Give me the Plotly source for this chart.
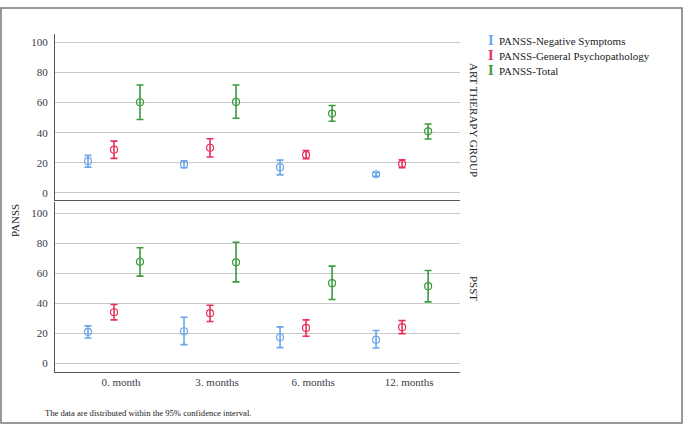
import plotly.graph_objects as go
from plotly.subplots import make_subplots

categories = ["0. month", "3. months", "6. months", "12. months"]
series_names = ["PANSS-Negative Symptoms", "PANSS-General Psychopathology", "PANSS-Total"]
series_colors = ["#6aa6e8", "#e6305e", "#3c9a3c"]
series_offsets = [-0.344, -0.073, 0.198]

# ART THERAPY GROUP: mean, lower, upper (95% CI)
art_neg_mean = [21.1, 18.9, 17.1, 12.4]
art_neg_low = [17.1, 16.7, 12.0, 11.1]
art_neg_up = [24.9, 21.3, 21.8, 13.6]
art_gen_mean = [28.7, 30.0, 25.3, 19.3]
art_gen_low = [22.9, 23.8, 22.7, 16.7]
art_gen_up = [34.4, 36.0, 28.2, 22.0]
art_tot_mean = [60.2, 60.4, 52.7, 40.9]
art_tot_low = [48.7, 49.6, 47.6, 35.8]
art_tot_up = [71.6, 71.6, 58.0, 45.8]

# PSST
psst_neg_mean = [20.8, 21.2, 17.2, 15.6]
psst_neg_low = [16.7, 12.3, 10.3, 10.0]
psst_neg_up = [24.8, 30.6, 24.1, 21.7]
psst_gen_mean = [33.9, 33.3, 23.4, 23.9]
psst_gen_low = [28.8, 27.7, 17.9, 19.6]
psst_gen_up = [39.1, 38.6, 28.8, 28.3]
psst_tot_mean = [67.6, 67.2, 53.3, 51.3]
psst_tot_low = [58.0, 54.2, 42.4, 40.8]
psst_tot_up = [77.0, 80.6, 64.7, 61.8]

y_ticks = [0, 20, 40, 60, 80, 100]

panels = [
    [(art_neg_mean, art_neg_low, art_neg_up),
     (art_gen_mean, art_gen_low, art_gen_up),
     (art_tot_mean, art_tot_low, art_tot_up)],
    [(psst_neg_mean, psst_neg_low, psst_neg_up),
     (psst_gen_mean, psst_gen_low, psst_gen_up),
     (psst_tot_mean, psst_tot_low, psst_tot_up)],
]

W, H = 683, 424
fig = make_subplots(rows=2, cols=1, shared_xaxes=True, vertical_spacing=0.0)

for r, panel in enumerate(panels, start=1):
    for s, (mean, low, up) in enumerate(panel):
        xs = [i + series_offsets[s] for i in range(len(categories))]
        fig.add_trace(go.Scatter(
            x=xs, y=mean, mode="markers", name=series_names[s],
            showlegend=False,
            marker=dict(symbol="circle-open", size=7, color=series_colors[s],
                        line=dict(width=1.2, color=series_colors[s])),
            error_y=dict(type="data", symmetric=False,
                         array=[u - m for u, m in zip(up, mean)],
                         arrayminus=[m - l for m, l in zip(mean, low)],
                         color=series_colors[s], thickness=1.6, width=3.5),
        ), row=r, col=1)

xdom = [55 / W, 460 / W]
serif = "Liberation Serif"
tick_color = "#3a3a48"

fig.update_layout(
    width=W, height=H,
    margin=dict(l=0, r=0, t=0, b=0),
    paper_bgcolor="white", plot_bgcolor="white",
    font=dict(family=serif, size=11, color=tick_color),
    xaxis=dict(domain=xdom, anchor="y"),
    xaxis2=dict(domain=xdom, anchor="y2"),
    yaxis=dict(domain=[(H - 200) / H, (H - 34) / H]),
    yaxis2=dict(domain=[(H - 372) / H, (H - 202) / H]),
)

for ax in ["xaxis", "xaxis2"]:
    fig.layout[ax].update(
        range=[-0.6875, 3.53], showgrid=False, zeroline=False,
        showline=True, linecolor="#555555", linewidth=1.2,
        tickmode="array", tickvals=list(range(len(categories))),
        ticktext=categories, ticks="", mirror=False,
        tickfont=dict(family=serif, size=11, color=tick_color),
    )
fig.layout.xaxis.update(showticklabels=False)
fig.layout.xaxis2.update(showticklabels=True)

for ax in ["yaxis", "yaxis2"]:
    fig.layout[ax].update(
        range=[-4.7, 105.5], tickmode="array", tickvals=y_ticks,
        showgrid=True, gridcolor="#c8c8c8", gridwidth=1.2, zeroline=False,
        showline=True, linecolor="#555555", linewidth=1.2, ticks="",
        tickfont=dict(family=serif, size=11, color=tick_color), ticklabelstandoff=4,
    )
fig.layout.yaxis2.update(range=[-6, 107.5])


def note(text, x, y, angle=0, xanchor="center", size=11, color="#222", family=serif):
    fig.add_annotation(text=text, x=x / W, y=(H - y) / H, xref="paper", yref="paper",
                       textangle=angle, showarrow=False, xanchor=xanchor, yanchor="middle",
                       font=dict(family=family, size=size, color=color))


# Titles
note("PANSS", 15, 221, angle=-90)
note("ART THERAPY GROUP", 474, 120, angle=90)
note("PSST", 474, 288, angle=90)

# Legend (error-bar icon + label)
for i, (name, col) in enumerate(zip(series_names, series_colors)):
    yy = 41 + 15 * i
    note("<b>I</b>", 491, yy, size=12, color=col, family="DejaVu Serif")
    note(name, 497, yy, xanchor="left")

# Footnote
note("The data are distributed within the 95% confidence interval.", 43, 413,
     xanchor="left", size=8.6)

# Outer frame
fig.add_shape(type="rect", xref="paper", yref="paper",
              x0=1 / W, x1=682 / W, y0=(H - 423) / H, y1=(H - 8) / H,
              line=dict(color="#777777", width=1.5))

fig.write_html("out.html", config={"displayModeBar": False},
               post_script="document.body.style.margin='0px';document.body.style.overflow='hidden';")
